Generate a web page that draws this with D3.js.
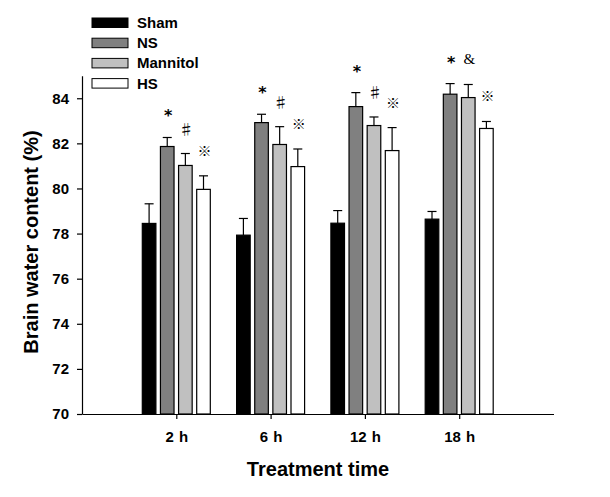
<!DOCTYPE html>
<html>
<head>
<meta charset="utf-8">
<script src="https://cdn.jsdelivr.net/npm/d3@7"></script>
<style>
  body { margin: 0; background: #fff; }
  svg { display: block; font-family: Arial, "Liberation Sans", sans-serif; }
</style>
</head>
<body>
<div id="chart"></div>
<script>
// Data
const categories = ["2 h", "6 h", "12 h", "18 h"];
const seriesNames = ["Sham", "NS", "Mannitol", "HS"];

const shamMeans = [78.45, 77.93, 78.46, 78.64];
const nsMeans = [81.86, 82.92, 83.63, 84.18];
const mannitolMeans = [81.02, 81.95, 82.79, 84.03];
const hsMeans = [79.96, 80.97, 81.68, 82.66];

const shamErr = [0.87, 0.74, 0.56, 0.34];
const nsErr = [0.40, 0.37, 0.62, 0.47];
const mannitolErr = [0.53, 0.79, 0.38, 0.58];
const hsErr = [0.60, 0.78, 1.02, 0.31];

// significance marks above bars (empty = none)
const shamMarks = ["", "", "", ""];
const nsMarks = ["*", "*", "*", "*"];
const mannitolMarks = ["\u266F", "\u266F", "\u266F", "&"];
const hsMarks = ["\u203B", "\u203B", "\u203B", "\u203B"];

const yTicks = [70, 72, 74, 76, 78, 80, 82, 84];

const seriesFill = ["#000000", "#808080", "#c0c0c0", "#ffffff"];

const allMeans = [shamMeans, nsMeans, mannitolMeans, hsMeans];
const allErr = [shamErr, nsErr, mannitolErr, hsErr];
const allMarks = [shamMarks, nsMarks, mannitolMarks, hsMarks];

const width = 610;
const height = 497;

const svg = d3.select("#chart").append("svg")
    .attr("width", width)
    .attr("height", height);

// scales
const x = d3.scalePoint()
    .domain(categories)
    .range([82, 553.5])
    .padding(1);

const xInner = d3.scaleBand()
    .domain(seriesNames)
    .range([-34, 34])
    .paddingInner(0.25);

const y = d3.scaleLinear()
    .domain([70, 85])
    .range([414, 75.7]);

// build flat records for the bars
const records = [];
categories.forEach((cat, i) => {
    seriesNames.forEach((s, j) => {
        records.push({ cat: cat, series: s, idx: j, value: allMeans[j][i], err: allErr[j][i], mark: allMarks[j][i] });
    });
});

// error bars (upward only), drawn behind the bars
const errG = svg.append("g").attr("stroke", "#000").attr("stroke-width", 1.2);
records.forEach(d => {
    const cx = x(d.cat) + xInner(d.series) + xInner.bandwidth() / 2;
    errG.append("line")
        .attr("x1", cx).attr("x2", cx)
        .attr("y1", y(d.value)).attr("y2", y(d.value + d.err));
    errG.append("line")
        .attr("x1", cx - 4.5).attr("x2", cx + 4.5)
        .attr("y1", y(d.value + d.err)).attr("y2", y(d.value + d.err));
});

// bars
svg.append("g").selectAll("rect")
    .data(records)
    .enter().append("rect")
    .attr("x", d => x(d.cat) + xInner(d.series))
    .attr("y", d => y(d.value))
    .attr("width", xInner.bandwidth())
    .attr("height", d => y(70) - y(d.value))
    .attr("fill", d => seriesFill[d.idx])
    .attr("stroke", "#000")
    .attr("stroke-width", 1.2);

// significance marks
const markFont = {
    "*": { font: "'DejaVu Sans', sans-serif", size: 16, weight: "bold", dy: 9 },
    "\u266F": { font: "'Noto Sans CJK JP', sans-serif", size: 15, weight: "normal", dy: 6 },
    "&": { font: "'Liberation Serif', serif", size: 15, weight: "normal", dy: 5 },
    "\u203B": { font: "'Noto Sans CJK SC', sans-serif", size: 14, weight: "normal", dy: 5 }
};
svg.append("g").selectAll("text")
    .data(records.filter(d => d.mark !== ""))
    .enter().append("text")
    .attr("x", d => x(d.cat) + xInner(d.series) + xInner.bandwidth() / 2 + 1)
    .attr("y", d => y(d.value + d.err) - 25 + markFont[d.mark].dy)
    .attr("text-anchor", "middle")
    .style("font-family", d => markFont[d.mark].font)
    .style("font-size", d => markFont[d.mark].size + "px")
    .style("font-weight", d => markFont[d.mark].weight)
    .text(d => d.mark);

// axes
const xAxis = svg.append("g")
    .attr("transform", `translate(0,${y(70)})`)
    .call(d3.axisBottom(x).tickSize(5).tickSizeOuter(0).tickPadding(12));
xAxis.select(".domain").attr("stroke-width", 1.2);
xAxis.selectAll(".tick line").attr("stroke-width", 1.2);
xAxis.selectAll(".tick text")
    .attr("fill", "#000")
    .style("font-size", "15px")
    .style("font-weight", "bold")
    .style("font-family", "Arial, 'Liberation Sans', sans-serif")
    .style("word-spacing", "1px");

const yAxis = svg.append("g")
    .attr("transform", `translate(82,0)`)
    .call(d3.axisLeft(y).tickValues(yTicks).tickSize(5).tickSizeOuter(0).tickPadding(8));
yAxis.select(".domain").attr("stroke-width", 1.2);
yAxis.selectAll(".tick line").attr("stroke-width", 1.2);
yAxis.selectAll(".tick text")
    .attr("fill", "#000")
    .style("font-size", "15px")
    .style("font-weight", "bold")
    .style("font-family", "Arial, 'Liberation Sans', sans-serif");

// axis titles
svg.append("text")
    .attr("x", 318)
    .attr("y", 476)
    .attr("text-anchor", "middle")
    .style("font-size", "20px")
    .style("font-weight", "bold")
    .text("Treatment time");

svg.append("text")
    .attr("transform", "translate(38,242) rotate(-90)")
    .attr("text-anchor", "middle")
    .style("font-size", "20px")
    .style("font-weight", "bold")
    .text("Brain water content (%)");

// legend
const legend = svg.append("g").attr("transform", "translate(92,18)");
seriesNames.forEach((s, i) => {
    const row = legend.append("g").attr("transform", `translate(0,${i * 20.2})`);
    row.append("rect")
        .attr("width", 36)
        .attr("height", 9.5)
        .attr("fill", seriesFill[i])
        .attr("stroke", "#000")
        .attr("stroke-width", 1);
    row.append("text")
        .attr("x", 45)
        .attr("y", 10)
        .style("font-size", "15px")
        .style("font-weight", "bold")
        .text(s);
});
</script>
</body>
</html>
